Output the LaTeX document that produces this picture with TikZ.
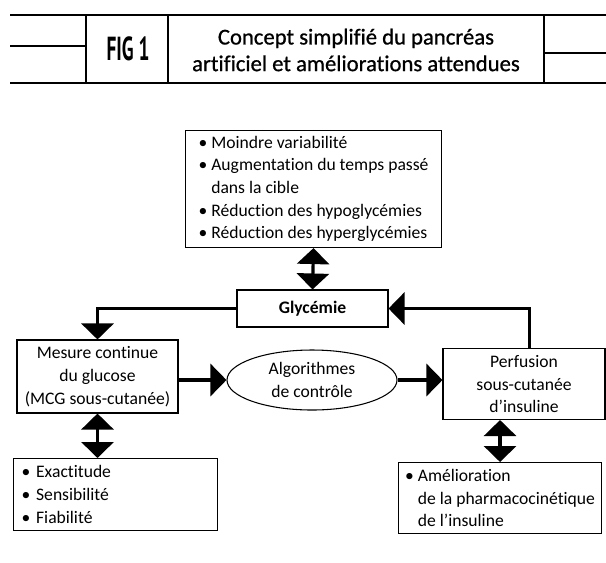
\documentclass[tikz,border=0pt]{standalone}
\usepackage{fontspec}
\setmainfont[Ligatures=NoCommon]{Carlito}
\newfontfamily\figfont{PT Sans}
\newfontfamily\titlefont[FakeBold=0.8,Ligatures=NoCommon]{Carlito}
\usetikzlibrary{positioning,arrows.meta,shapes.geometric}
\tikzset{
  box/.style      = {draw, line width=0.8pt, inner sep=0pt,
                     font=\fontsize{13.2}{17}\selectfont},
  listbox/.style  = {box, anchor=north west, align=left},
  midbox/.style   = {box, align=center},
  frame/.style    = {line width=0.8pt},
  flow/.style     = {line width=2.4pt, -{Triangle[width=24pt,length=12pt]}},
  twoway/.style   = {line width=2.4pt,
                     {Triangle[width=24pt,length=12pt]}-{Triangle[width=24pt,length=12pt]}}
}
\newcommand{\bul}{\textbullet\ }
\newcommand{\hang}{\phantom{\textbullet\ }}
\begin{document}
\begin{tikzpicture}[x=0.75pt,y=-0.75pt]
\useasboundingbox (0,0) rectangle (606,562);
% en-tete
\draw[frame] (10,15) -- (606,15) (10,83) -- (606,83)
  (86,15) -- (86,83) (168,15) -- (168,83) (544,15) -- (544,83)
  (10,46) -- (86,46) (544,53) -- (606,53);
\node (fig) at (128,49) {\scalebox{0.58}[1]{\figfont\fontsize{25}{25}\selectfont\bfseries FIG 1}};
\node (title) [align=center, font=\titlefont\fontsize{17}{20}\selectfont] at (356,50)
  {Concept simplifié du pancréas\\ artificiel et améliorations attendues};
% schema
\node (goals) [listbox, minimum width=192pt, minimum height=87.75pt] at (185,130)
  {\bul Moindre variabilité\\ \bul Augmentation du temps passé\\ \hang dans la cible\\
   \bul Réduction des hypoglycémies\\ \bul Réduction des hyperglycémies};
\node (glyc) [midbox, minimum width=113.25pt, minimum height=27.75pt,
  font=\fontsize{13.2}{17}\selectfont\bfseries] at (312.5,308.5) {Glycémie};
\node (mcg) [midbox, minimum width=120.75pt, minimum height=54.75pt] at (97.5,376.5)
  {Mesure continue\\ du glucose\\ (MCG sous-cutanée)};
\node (algo) [midbox, ellipse, minimum width=127.5pt, minimum height=45pt] at (312,380)
  {Algorithmes\\ de contrôle};
\node (perf) [midbox, minimum width=121.5pt, minimum height=53.25pt] at (524,384)
  {Perfusion\\ sous-cutanée\\ d’insuline};
\node (crit) [listbox, text width=141pt, minimum height=54pt, inner xsep=6pt] at (13,458)
  {\bul Exactitude\\ \bul Sensibilité\\ \bul Fiabilité};
\node (amel) [listbox, minimum width=152.25pt, minimum height=53.25pt] at (398,462)
  {\bul Amélioration\\ \hang de la pharmacocinétique\\ \hang de l’insuline};
\draw[flow] (glyc.west) -| (mcg.north);
\draw[flow] ([xshift=4pt]perf.north) |- (glyc.east);
\draw[flow] (mcg.east |- algo.west) -- (algo.west);
\draw[flow] (algo.east) -- (algo.east -| perf.west);
\draw[twoway] (goals.south) -- (glyc.north);
\draw[twoway] (mcg.south) -- (mcg.south |- crit.north);
\draw[twoway] (amel.north |- perf.south) -- (amel.north);
\end{tikzpicture}
\end{document}
